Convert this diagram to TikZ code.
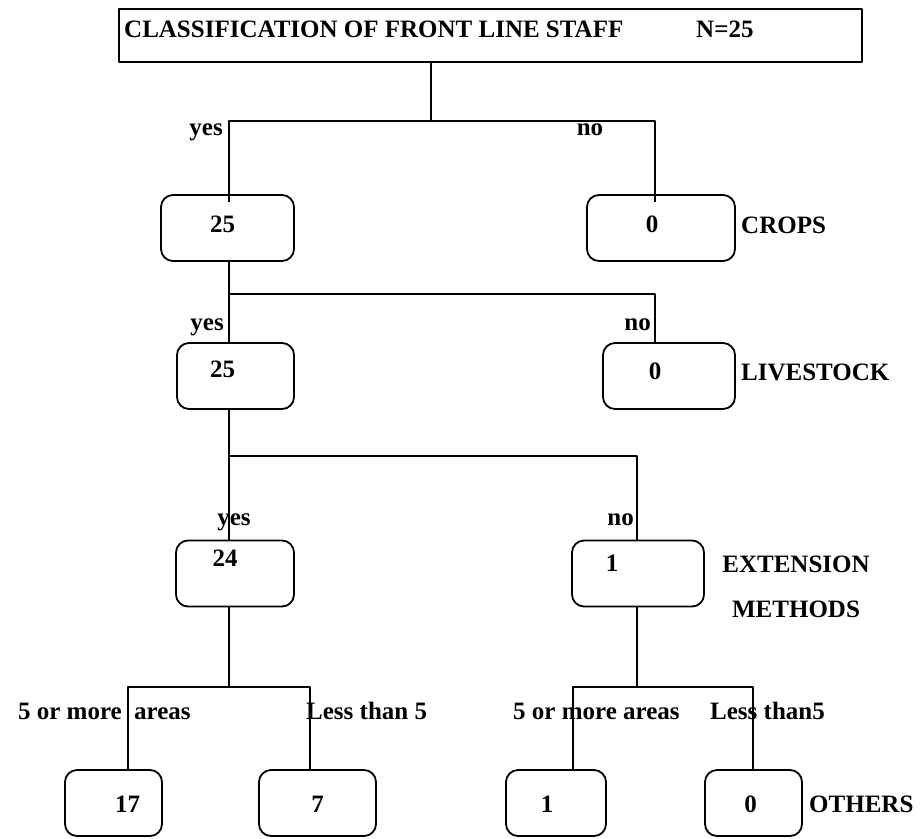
\documentclass[tikz,border=0pt]{standalone}
\usepackage{fontspec}
\setmainfont{Liberation Serif}
\usetikzlibrary{positioning}

\begin{document}
\begin{tikzpicture}[
        x = 1pt, y = -1pt,
        line join=round,
        font = \fontsize{25}{29}\selectfont\bfseries,
        mystyle/.style = {line width=1.8pt, black},
        boxstyle/.style = {draw, line width=1.8pt, rounded corners=12pt, inner sep=0pt, minimum height=66pt},
        textstyle/.style = {inner sep=0pt, text height=0.68em, text depth=0.2em, yshift=-5pt}
    ]
        \useasboundingbox (0, 0) rectangle (920, 838);

        \node[draw, line width=1.8pt, minimum width=743pt, minimum height=53pt] (title) at (490.5, 35.5) {};
        \node[textstyle, anchor=west] (ttl) at (124, 30) {CLASSIFICATION OF FRONT LINE STAFF};
        \node[textstyle, anchor=west] (nn) at (696, 30) {N=25};

        \node[boxstyle, minimum width=133pt] (r1y) at (227.5, 228) {};
        \node[boxstyle, minimum width=148pt] (r1n) at (661, 228) {};
        \node[boxstyle, minimum width=117pt] (r2y) at (235.5, 376) {};
        \node[boxstyle, minimum width=132pt] (r2n) at (669, 376) {};
        \node[boxstyle, minimum width=118pt] (r3y) at (235, 573.5) {};
        \node[boxstyle, minimum width=132pt] (r3n) at (638, 573.5) {};
        \node[boxstyle, minimum width=97pt] (r4a) at (113.5, 803) {};
        \node[boxstyle, minimum width=117pt] (r4b) at (317.5, 803) {};
        \node[boxstyle, minimum width=100pt] (r4c) at (556, 803) {};
        \node[boxstyle, minimum width=97pt] (r4d) at (753.5, 803) {};

        \node[textstyle] (v1y) at ([shift={(-5, -3)}]r1y.center) {25};
        \node[textstyle] (v1n) at ([shift={(-9, -3)}]r1n.center) {0};
        \node[textstyle] (v2y) at ([shift={(-13, -6)}]r2y.center) {25};
        \node[textstyle] (v2n) at ([shift={(-14, -4)}]r2n.center) {0};
        \node[textstyle] (v3y) at ([shift={(-10, -14)}]r3y.center) {24};
        \node[textstyle] (v3n) at ([shift={(-26, -9)}]r3n.center) {1};
        \node[textstyle] (v4a) at ([shift={(14, 2)}]r4a.center) {17};
        \node[textstyle] (v4b) at ([shift={(0, 2)}]r4b.center) {7};
        \node[textstyle] (v4c) at ([shift={(-9, 2)}]r4c.center) {1};
        \node[textstyle] (v4d) at ([shift={(-3, 2)}]r4d.center) {0};

        \coordinate (m1) at (431, 121);
        \coordinate (a1) at (229, 121);
        \coordinate (b1) at (655, 121);
        \coordinate (a2) at (229, 294);
        \coordinate (b2) at (655, 294);
        \coordinate (a3) at (229, 456);
        \coordinate (b3) at (637, 456);
        \coordinate (a4) at (128, 687);
        \coordinate (b4) at (310, 687);
        \coordinate (c4) at (573, 687);
        \coordinate (d4) at (753, 687);

        \draw[mystyle] (title.south -| m1) -- (m1);
        \draw[mystyle] (r1y.north -| a1) ++(0, 8) -- (a1) -- (b1) -- (r1n.north -| b1) -- ++(0, 8);
        \draw[mystyle] (r1y.south -| a2) -- (r2y.north -| a2);
        \draw[mystyle] (a2) -- (b2) -- (r2n.north -| b2);
        \draw[mystyle] (r2y.south -| a3) -- (r3y.north -| a3);
        \draw[mystyle] (a3) -- (b3) -- (r3n.north -| b3);
        \draw[mystyle] (r3y.south -| a3) -- (a3 |- a4);
        \draw[mystyle] (r4a.north -| a4) -- (a4) -- (b4) -- (r4b.north -| b4);
        \draw[mystyle] (r3n.south -| b3) -- (b3 |- c4);
        \draw[mystyle] (r4c.north -| c4) -- (c4) -- (d4) -- (r4d.north -| d4);

        \node[textstyle, anchor=east] (y1) at (223, 128) {yes};
        \node[textstyle] (n1) at (590, 128) {no};
        \node[textstyle, anchor=east] (y2) at (224, 323) {yes};
        \node[textstyle, anchor=east] (n2) at (651, 323) {no};
        \node[textstyle] (y3) at (234, 518) {yes};
        \node[textstyle, anchor=east] (n3) at (634, 518) {no};

        \node[textstyle, anchor=east] (l4a) at (122, 712) {5 or more};
        \node[textstyle, anchor=west] (l4b) at (134, 712) {areas};
        \node[textstyle, anchor=west] (l4c) at (306, 712) {Less than 5};
        \node[textstyle, anchor=west] (l4d) at (513, 712) {5 or more areas};
        \node[textstyle, anchor=west] (l4e) at (710, 712) {Less than5};

        \node[textstyle, anchor=west] (crops) at (741, 226) {CROPS};
        \node[textstyle, anchor=west] (live) at (741, 373) {LIVESTOCK};
        \node[textstyle] (ext) at (796, 565) {EXTENSION};
        \node[textstyle] (meth) at (796, 610) {METHODS};
        \node[textstyle, anchor=west] (oth) at (809, 805) {OTHERS};

    \end{tikzpicture}
\end{document}
